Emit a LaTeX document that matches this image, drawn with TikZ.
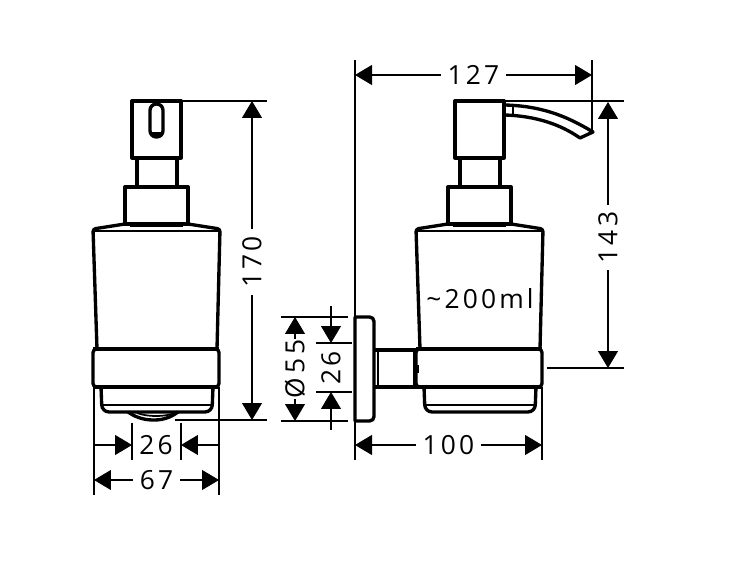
\documentclass[tikz,border=0pt]{standalone}
\usepackage{fontspec}
\setmainfont[LetterSpace=12]{Open Sans}
\usetikzlibrary{arrows.meta}
\tikzset{
  outline/.style={line width=1.9pt, line join=round},
  heavy/.style={line width=2.4pt, line join=round},
  fine/.style={line width=0.6pt},
  dimtip/.tip={Triangle[length=0.34cm, width=0.4cm]},
  dimline/.style={fine, dimtip-dimtip},
  dimarrow/.style={fine, -dimtip},
  dimtext/.style={fill=white, inner xsep=4pt, inner ysep=0pt, font=\fontsize{15}{15}\selectfont},
}
\begin{document}
\begin{tikzpicture}[x=0.02cm, y=-0.02cm]
  \useasboundingbox (0,0) rectangle (750,563);
  % same glass, band and pump in both views
  \foreach \dx in {0,323} {
    \begin{scope}[shift={(\dx,0)}]
      \draw [outline] (132,101) rectangle (181,158);
      \draw [outline] (137,158) -- (137,187);
      \draw [outline] (177,158) -- (177,187);
      \draw [outline] (125,187) rectangle (188,224);
      \draw [outline, rounded corners=1.5pt] (125,224) -- (93,229) -- (97,349);
      \draw [outline, rounded corners=1.5pt] (188,224) -- (220,229) -- (217,349);
      \draw [line width=1pt] (93,231) -- (220,231);
      \draw [line width=1pt] (130,226) -- (183,226);
      \draw [outline, rounded corners=2pt] (93,349) rectangle (219,387);
      \draw [heavy] (93,349) -- (219,349);
      \draw [heavy] (93,387) -- (219,387);
      \draw [outline, rounded corners=4pt] (101,387) -- (102,412) -- (212,412) -- (213,387);
      \draw [line width=1pt] (102,405) -- (212,405);
    \end{scope}
  }
  % left view
  \draw [outline, rounded corners=3.6pt] (150,104) rectangle (163,137);
  \draw [heavy] (152,134) -- (161,134);
  \draw [outline] (128,412) .. controls (138,419) and (147,420) .. (154,420) .. controls (162,420) and (170,418) .. (178,412);
  \draw [line width=1pt] (137,413) .. controls (147,417) and (165,417) .. (175,413);
  % right view, spout
  \draw [outline] (505,105) .. controls (540,106) and (565,115) .. (593,132) -- (580,138) .. controls (560,124) and (535,116) .. (505,115);
  \draw [line width=1pt] (513,106) -- (513,115);
  % right view, wall plate and arm
  \draw [outline] (355,317) [rounded corners=2.5pt] -- (374,317) -- (374,421) [sharp corners] -- (355,421) -- cycle;
  \draw [outline] (374,350) -- (417,350);
  \draw [outline] (374,387) -- (417,387);
  \draw [fine] (378,350) -- (378,387);
  \draw [fine] (414,350) -- (414,387);
  \draw [heavy] (417,365) -- (417,373);
  % extension lines
  \draw [fine] (181,101) -- (267,101);
  \draw [fine] (175,420) -- (267,420);
  \draw [fine] (94,387) -- (94,495);
  \draw [fine] (219,387) -- (219,495);
  \draw [fine] (132,423) -- (132,460);
  \draw [fine] (181,423) -- (181,460);
  \draw [fine] (355,60) -- (355,460);
  \draw [fine] (542,387) -- (542,460);
  \draw [fine] (592,60) -- (592,133);
  \draw [fine] (504,101) -- (624,101);
  \draw [fine] (547,368) -- (624,368);
  \draw [fine] (281,317) -- (348,317);
  \draw [fine] (281,421) -- (348,421);
  \draw [fine] (316,343) -- (352,343);
  \draw [fine] (316,392) -- (352,392);
  % dimensions
  \draw [dimline] (252,101) -- node (lheight) [dimtext, rotate=90, pos=0.505] {170} (252,420);
  \draw [dimline] (94,480) -- node (lwidth) [dimtext] {67} (219,480);
  \draw [dimarrow] (94,445) -- (132,445);
  \draw [dimarrow] (219,445) -- (181,445);
  \node (lhole) [dimtext, fill=none] at (156,445) {26};
  \draw [dimline] (355,75) -- node (rwidth) [dimtext] {127} (592,75);
  \draw [dimline] (355,445) -- node (rdepth) [dimtext] {100} (542,445);
  \draw [dimline] (608,102) -- node (rheight) [dimtext, rotate=90, pos=0.51] {143} (608,368);
  \draw [dimline] (295,317) -- node (plate) [dimtext, rotate=90, inner xsep=0pt] {\addfontfeatures{LetterSpace=17}Ø55} (295,421);
  \draw [dimarrow] (331,306) -- (331,343);
  \draw [dimarrow] (331,430) -- (331,392);
  \node (screws) [dimtext, fill=none, rotate=90] at (331,368) {26};
  \node (volume) [dimtext, fill=none] at (480,299) {\textasciitilde 200ml};
\end{tikzpicture}
\end{document}
